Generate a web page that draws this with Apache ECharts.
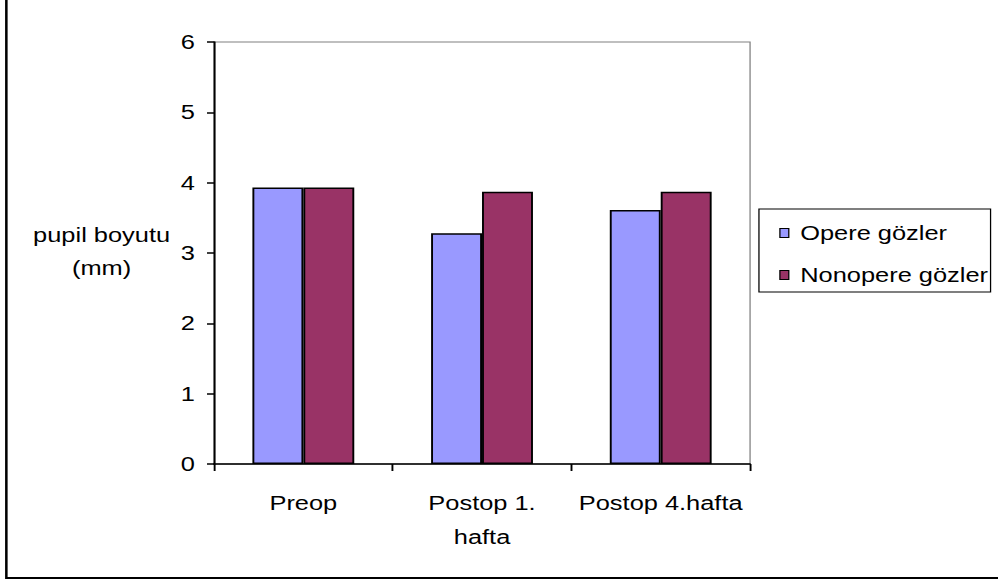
<!DOCTYPE html>
<html>
<head>
<meta charset="utf-8">
<style>
  html, body { margin: 0; padding: 0; background: #ffffff; overflow: hidden; }
  #wrap { width: 998px; height: 580px; overflow: hidden; }
  /* The chart is laid out narrow and widened horizontally, giving the wide lettering of the original */
  #chart { width: 786px; height: 580px; transform: scaleX(1.27); transform-origin: 0 0; }
</style>
<script src="https://cdn.jsdelivr.net/npm/echarts@6/dist/echarts.min.js"></script>
</head>
<body>
<div id="wrap"><div id="chart"></div></div>
<script>
// Pupil size (mm) by visit
const categories = ['Preop', 'Postop 1.\nhafta', 'Postop 4.hafta'];
const seriesNames = ['Opere gözler', 'Nonopere gözler'];
const operated = [3.93, 3.28, 3.61];
const nonOperated = [3.93, 3.87, 3.87];
const yTicks = [0, 1, 2, 3, 4, 5, 6];
const yTitle = 'pupil boyutu\n(mm)';

const FONT = '"Liberation Sans", Arial, sans-serif';
const chart = echarts.init(document.getElementById('chart'), null, { renderer: 'svg' });

chart.setOption({
  animation: false,
  backgroundColor: '#ffffff',
  textStyle: { fontFamily: FONT, color: '#000' },
  grid: {
    left: 168.5, right: 195.4, top: 42, bottom: 116,
    show: true, borderColor: '#808080', borderWidth: 1, backgroundColor: 'transparent'
  },
  legend: {
    orient: 'vertical',
    left: 597.6, top: 209,
    padding: [14, 2, 7, 16],
    itemGap: 22,
    itemWidth: 7, itemHeight: 9,
    icon: 'rect',
    borderColor: '#000', borderWidth: 1,
    backgroundColor: '#fff',
    itemStyle: { borderColor: '#000', borderWidth: 1 },
    textStyle: { fontFamily: FONT, fontSize: 20, color: '#000', padding: [0, 0, 0, 4] },
    data: seriesNames
  },
  xAxis: {
    type: 'category',
    data: categories,
    axisLine: { show: true, lineStyle: { color: '#000', width: 1.5 } },
    axisTick: { show: true, interval: 0, length: 7, lineStyle: { color: '#000', width: 1.5 } },
    axisLabel: { interval: 0, fontFamily: FONT, fontSize: 20, color: '#000', margin: 22, lineHeight: 34 },
    splitLine: { show: false }
  },
  yAxis: {
    type: 'value',
    min: yTicks[0], max: yTicks[yTicks.length - 1], interval: 1,
    axisLine: { show: true, lineStyle: { color: '#000', width: 1.5 } },
    axisTick: { show: true, inside: false, length: 5.5, lineStyle: { color: '#000', width: 1.5 } },
    axisLabel: { fontFamily: FONT, fontSize: 20, color: '#000', margin: 15 },
    splitLine: { show: false }
  },
  graphic: [
    {
      type: 'text',
      x: 80, y: 252,
      style: {
        text: yTitle,
        font: '20px ' + FONT, fill: '#000',
        textAlign: 'center', textVerticalAlign: 'middle', lineHeight: 33
      }
    },
    {
      type: 'rect',
      shape: { x: 5, y: -10, width: 900, height: 588 },
      style: { fill: 'none', stroke: '#000', lineWidth: 2 },
      silent: true, z: 100
    }
  ],
  series: [
    {
      name: seriesNames[0], type: 'bar', data: operated,
      barGap: '0%', barCategoryGap: '43%',
      itemStyle: { color: '#9999FF', borderColor: '#000', borderWidth: 1.5 }
    },
    {
      name: seriesNames[1], type: 'bar', data: nonOperated,
      barGap: '0%', barCategoryGap: '43%',
      itemStyle: { color: '#993366', borderColor: '#000', borderWidth: 1.5 }
    }
  ]
});
</script>
</body>
</html>
